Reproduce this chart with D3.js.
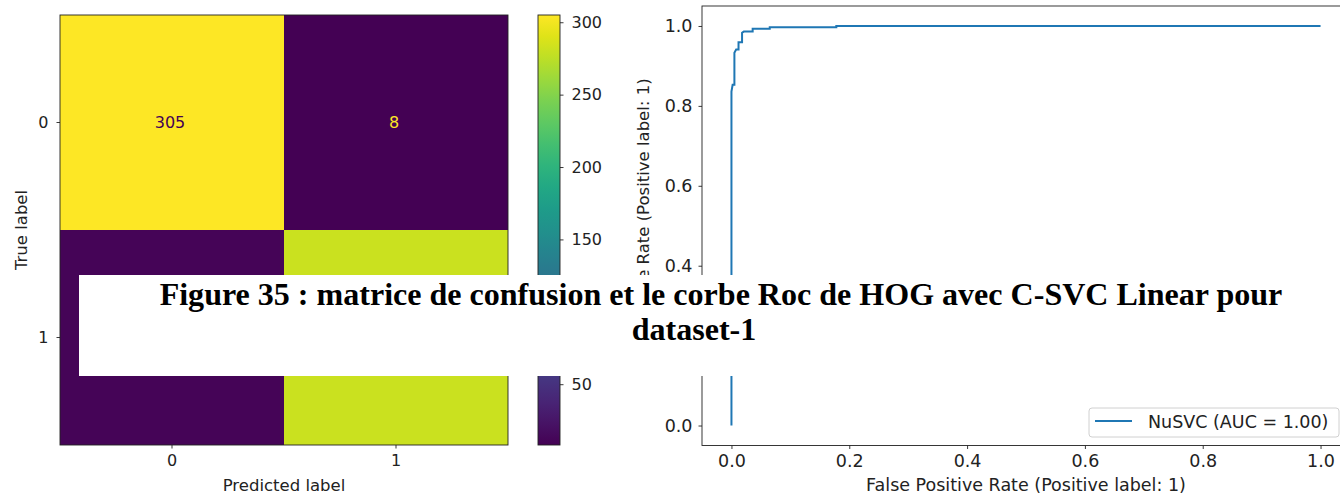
<!DOCTYPE html>
<html>
<head>
<meta charset="utf-8">
<script src="https://cdn.jsdelivr.net/npm/d3@7"></script>
<style>
  html, body { margin: 0; padding: 0; background: #fff; }
  svg { display: block; }
  .tick text { font-family: "DejaVu Sans", sans-serif; fill: #222; }
  .cmside .tick text { font-size: 16px; }
  .rocside .tick text { font-size: 17.5px; }
  .tick line { stroke: #222; stroke-width: 0.9; }
  .domain { stroke: none; }
</style>
</head>
<body>
<svg id="chart" width="1340" height="496"></svg>
<script>
// ---------------- data ----------------
const cmCategories = ["0", "1"];
const cmRow0 = [305, 8];
const cmRow1 = [11, 281];
const colorbarTicks = [50, 100, 150, 200, 250, 300];
const cmXLabel = "Predicted label";
const cmYLabel = "True label";

const rocFpr = [0, 0, 0.002, 0.005, 0.005, 0.008, 0.012, 0.012, 0.018, 0.018, 0.021, 0.036, 0.036, 0.065, 0.065, 0.178, 0.178, 1.0];
const rocTpr = [0, 0.836, 0.853, 0.853, 0.933, 0.941, 0.941, 0.959, 0.959, 0.983, 0.986, 0.986, 0.993, 0.993, 0.997, 0.997, 1.0, 1.0];
const rocTicks = [0, 0.2, 0.4, 0.6, 0.8, 1.0];
const rocXLabel = "False Positive Rate (Positive label: 1)";
const rocYLabel = "True Positive Rate (Positive label: 1)";
const legendLabel = "NuSVC (AUC = 1.00)";

const titleLines = ["Figure 35 : matrice de confusion et le corbe Roc de HOG avec C-SVC Linear pour", "dataset-1"];

// ---------------- drawing ----------------
const svg = d3.select("#chart");
const FONT = '"DejaVu Sans", sans-serif';

// ===== Confusion matrix =====
const cmValues = [cmRow0, cmRow1];
const allVals = cmValues.flat();
const vmin = d3.min(allVals), vmax = d3.max(allVals);
const color = d3.scaleSequential(d3.interpolateViridis).domain([vmin, vmax]);

const cmX = d3.scaleBand().domain(cmCategories).range([60, 508]);
const cmY = d3.scaleBand().domain(cmCategories).range([15, 445]);

const cells = [];
cmValues.forEach((row, i) => row.forEach((v, j) => cells.push({ r: cmCategories[i], c: cmCategories[j], v })));

const cm = svg.append("g").attr("class", "cmside");
cm.selectAll("rect.cell").data(cells).enter().append("rect")
  .attr("class", "cell")
  .attr("x", d => cmX(d.c)).attr("y", d => cmY(d.r))
  .attr("width", cmX.bandwidth()).attr("height", cmY.bandwidth())
  .attr("fill", d => color(d.v));

const thresh = (vmax + vmin) / 2;
cm.selectAll("text.val").data(cells).enter().append("text")
  .attr("class", "val")
  .attr("x", d => cmX(d.c) + cmX.bandwidth() / 2 - 2)
  .attr("y", d => cmY(d.r) + cmY.bandwidth() / 2)
  .attr("dy", "0.35em")
  .attr("text-anchor", "middle")
  .style("font-family", FONT).style("font-size", "16px")
  .attr("fill", d => d.v > thresh ? color(vmin) : color(vmax))
  .text(d => d.v);

cm.append("rect").attr("x", 60).attr("y", 15).attr("width", 448).attr("height", 430)
  .attr("fill", "none").attr("stroke", "#222").attr("stroke-width", 0.9);

cm.append("g").attr("transform", "translate(0,445)")
  .call(d3.axisBottom(cmX).tickSize(3.5).tickPadding(6));
cm.append("g").attr("transform", "translate(60,0)")
  .call(d3.axisLeft(cmY).tickSize(3.5).tickPadding(8));

cm.append("text").attr("x", 284).attr("y", 491).attr("text-anchor", "middle")
  .style("font-family", FONT).style("font-size", "16.5px").attr("fill", "#222").text(cmXLabel);
cm.append("text").attr("transform", "translate(27,230) rotate(-90)").attr("text-anchor", "middle")
  .style("font-family", FONT).style("font-size", "16.5px").attr("fill", "#222").text(cmYLabel);

// ===== Colorbar =====
const cbY = d3.scaleLinear().domain([vmin, vmax]).range([445, 15]);
const defs = svg.append("defs");
const grad = defs.append("linearGradient").attr("id", "viridisGrad")
  .attr("x1", 0).attr("y1", 1).attr("x2", 0).attr("y2", 0);
d3.range(0, 1.0001, 0.05).forEach(t => {
  grad.append("stop").attr("offset", t).attr("stop-color", d3.interpolateViridis(t));
});
const cb = svg.append("g").attr("class", "cmside");
cb.append("rect").attr("x", 538).attr("y", 15).attr("width", 22).attr("height", 430)
  .attr("fill", "url(#viridisGrad)").attr("stroke", "#222").attr("stroke-width", 0.9);
cb.append("g").attr("transform", "translate(560,0)")
  .call(d3.axisRight(cbY).tickValues(colorbarTicks).tickSize(3.5).tickPadding(8));

// ===== ROC =====
const rx = d3.scaleLinear().domain([-0.05, 1.05]).range([702, 1350]);
const ry = d3.scaleLinear().domain([-0.05, 1.05]).range([445.5, 6]);
const roc = svg.append("g").attr("class", "rocside");
const pts = rocFpr.map((f, i) => [f, rocTpr[i]]);
roc.append("path").datum(pts)
  .attr("d", d3.line().x(d => rx(d[0])).y(d => ry(d[1])))
  .attr("fill", "none").attr("stroke", "#1f77b4").attr("stroke-width", 2);

roc.append("rect").attr("x", 702).attr("y", 6).attr("width", 648).attr("height", 439.5)
  .attr("fill", "none").attr("stroke", "#222").attr("stroke-width", 0.9);
roc.append("g").attr("transform", "translate(0,445.5)")
  .call(d3.axisBottom(rx).tickValues(rocTicks).tickFormat(d3.format(".1f")).tickSize(3.5).tickPadding(6));
roc.append("g").attr("transform", "translate(702,0)")
  .call(d3.axisLeft(ry).tickValues(rocTicks).tickFormat(d3.format(".1f")).tickSize(3.5).tickPadding(6));

roc.append("text").attr("x", 1026).attr("y", 491).attr("text-anchor", "middle")
  .style("font-family", FONT).style("font-size", "17.5px").attr("fill", "#222").text(rocXLabel);
roc.append("text").attr("transform", "translate(649,226) rotate(-90)").attr("text-anchor", "middle")
  .style("font-family", FONT).style("font-size", "16.5px").attr("fill", "#222").text(rocYLabel);

// legend
const lg = roc.append("g");
lg.append("rect").attr("x", 1089).attr("y", 408).attr("width", 250).attr("height", 29).attr("rx", 3)
  .attr("fill", "#fff").attr("fill-opacity", 0.8).attr("stroke", "#d0d0d0").attr("stroke-width", 1);
lg.append("line").attr("x1", 1095).attr("x2", 1132).attr("y1", 421).attr("y2", 421)
  .attr("stroke", "#1f77b4").attr("stroke-width", 2);
lg.append("text").attr("x", 1148).attr("y", 422).attr("dy", "0.35em")
  .style("font-family", FONT).style("font-size", "17.5px").attr("fill", "#222").text(legendLabel);

// ===== Caption overlay =====
svg.append("rect").attr("x", 79).attr("y", 275).attr("width", 1261).attr("height", 101).attr("fill", "#fff");
const cap = svg.append("g");
const capCenters = [721, 694];
const capBaselines = [305, 340];
const capTexts = cap.selectAll("text.cap").data(titleLines).enter().append("text")
  .attr("class", "cap")
  .attr("text-anchor", "middle")
  .style("font-family", '"Liberation Serif", "Times New Roman", serif')
  .style("font-weight", "bold").style("font-size", "32px").attr("fill", "#000")
  .text(d => d);
const natural = capTexts.nodes()[0].getComputedTextLength();
const sx = 1123 / natural;
capTexts.attr("transform", (d, i) => `translate(${capCenters[i]},${capBaselines[i]}) scale(${sx},1)`);
</script>
</body>
</html>
